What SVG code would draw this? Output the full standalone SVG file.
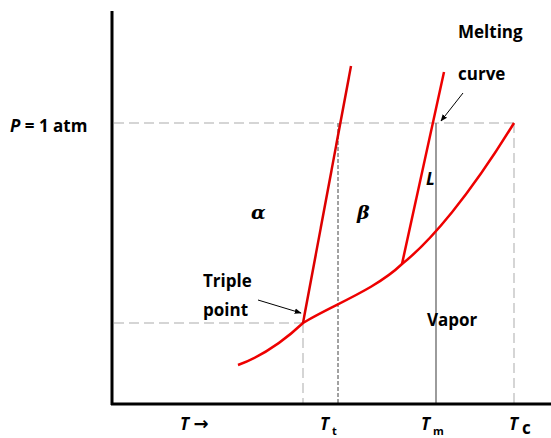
<svg xmlns="http://www.w3.org/2000/svg" width="551" height="438" viewBox="0 0 551 438">
<defs>
<marker id="ah" viewBox="0 0 10 10" refX="9" refY="5" markerWidth="7" markerHeight="7" orient="auto" markerUnits="userSpaceOnUse"><path d="M0,1 L10,5 L0,9 z" fill="#000"/></marker>
<style>
text{font-family:"Open Sans","Liberation Sans",sans-serif;font-weight:bold;font-size:17px;fill:#000}
.it{font-style:italic}
.gr{font-family:"DejaVu Serif","Liberation Serif",serif;font-style:italic;font-size:19px}
.sub{font-size:11px}
.gd{stroke:#c8c8c8;stroke-width:1.5;stroke-dasharray:10,5;fill:none}
.red{stroke:#ee0000;stroke-width:2.5;fill:none}
</style>
</defs>
<rect width="551" height="438" fill="#fff"/>
<g id="guides">
<line class="gd" x1="114" y1="123" x2="514" y2="123"/>
<line class="gd" x1="514" y1="123" x2="514" y2="403"/>
<line class="gd" x1="114" y1="323" x2="303" y2="323"/>
<line class="gd" x1="303" y1="323" x2="303" y2="403"/>
<line x1="338" y1="123" x2="338" y2="403" stroke="#444" stroke-width="1" stroke-dasharray="4,2"/>
<line x1="436" y1="123" x2="436" y2="403" stroke="#666" stroke-width="1.3"/>
</g>
<g id="axes">
<line x1="112" y1="11" x2="112" y2="405" stroke="#000" stroke-width="3"/>
<line x1="111" y1="404" x2="551" y2="404" stroke="#000" stroke-width="3"/>
</g>
<g id="connectors">
<path class="red" d="M238,365 C265,355 285,340 303,323 C330,306 375,290 402,264 C430,242 470,195 514,123"/>
<line class="red" x1="402" y1="264" x2="444" y2="72"/>
<line x1="303" y1="323" x2="351" y2="66" stroke="#dd0000" stroke-width="2.5"/>
<line x1="258" y1="300" x2="301" y2="313" stroke="#000" stroke-width="1" marker-end="url(#ah)"/>
<line x1="463" y1="93" x2="441" y2="121" stroke="#000" stroke-width="1" marker-end="url(#ah)"/>
</g>
<g id="labels">
<text x="10" y="132"><tspan class="it">P</tspan> = 1 atm</text>
<text x="458" y="38">Melting</text>
<text x="458" y="80">curve</text>
<text x="251" y="219" class="gr">α</text>
<text x="357" y="219" class="gr">β</text>
<text x="426" y="185" class="it">L</text>
<text x="203" y="287">Triple</text>
<text x="203" y="316">point</text>
<text x="427" y="326">Vapor</text>
<text x="180" y="430"><tspan class="it">T</tspan> <tspan font-family="DejaVu Sans, sans-serif" font-size="18">→</tspan></text>
<text x="320" y="430" class="it">T</text><text x="332" y="435" class="sub">t</text>
<text x="421" y="430" class="it">T</text><text x="433" y="435" class="sub">m</text>
<text x="509" y="430" class="it" font-size="19">T</text><text x="522" y="434" font-size="13">c</text>
</g>
</svg>
